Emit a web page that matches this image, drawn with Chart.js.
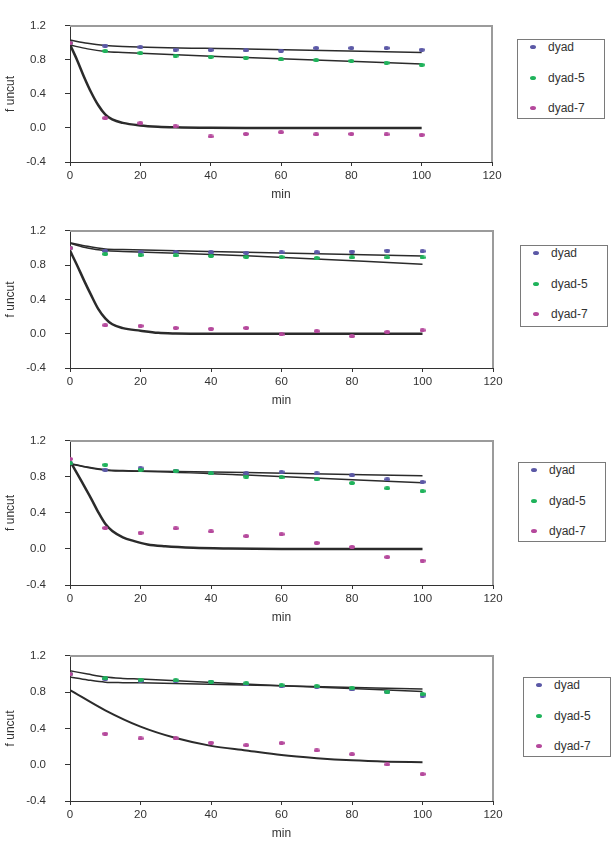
<!DOCTYPE html>
<html>
<head>
<meta charset="utf-8">
<script src="https://cdn.jsdelivr.net/npm/chart.js@4.4.0/dist/chart.umd.min.js"></script>
<style>
  body { margin: 0; background: #fff; width: 611px; height: 843px; position: relative; overflow: hidden; font-family: "Liberation Sans", Arial, sans-serif; }
  canvas { position: absolute; left: 0; }
  .legend { position: absolute; border: 1px solid #7a7a7a; background: #fff; box-sizing: border-box; width: 88px; height: 80px; }
  .legend div { height: 16px; line-height: 16px; margin-bottom: 14.7px; font-size: 12px; color: #333; position: relative; padding-left: 30px; }
  .legend div:first-child { margin-top: -1px; }
  .legend span { position: absolute; left: 12px; top: 6px; width: 6px; height: 4px; border-radius: 50%; }
</style>
</head>
<body>
<script>
const minutes = [0, 10, 20, 30, 40, 50, 60, 70, 80, 90, 100];
const xTicks = [0, 20, 40, 60, 80, 100, 120];
const yTicks = [-0.4, 0, 0.4, 0.8, 1.2];
const seriesNames = ['dyad', 'dyad-5', 'dyad-7'];
const seriesColors = ['#5b58a6', '#1fb35b', '#b5489c'];

// panel 1
const p1Dyad  = [1.0, 0.968, 0.95, 0.92, 0.916, 0.912, 0.909, 0.94, 0.94, 0.94, 0.92];
const p1Dyad5 = [1.0, 0.905, 0.88, 0.85, 0.836, 0.826, 0.805, 0.798, 0.788, 0.767, 0.743];
const p1Dyad7 = [1.0, 0.116, 0.057, 0.02, -0.10, -0.07, -0.05, -0.075, -0.07, -0.075, -0.08];
const p1FitDyad  = [[0, 1.034], [5, 0.995], [10, 0.97], [15, 0.958], [50, 0.929], [100, 0.888]];
const p1FitDyad5 = [[0, 0.975], [5, 0.93], [10, 0.9], [15, 0.888], [50, 0.828], [100, 0.753]];
const p1FitDyad7 = [[0, 0.98], [2, 0.8], [4, 0.6], [6, 0.42], [8, 0.27], [10, 0.16], [12, 0.1], [15, 0.06], [20, 0.03], [25, 0.015], [30, 0.008], [40, 0.002], [50, 0], [100, 0]];

// panel 2
const p2Dyad  = [1.0, 0.966, 0.952, 0.952, 0.949, 0.945, 0.949, 0.952, 0.959, 0.97, 0.963];
const p2Dyad5 = [1.0, 0.93, 0.918, 0.914, 0.908, 0.897, 0.894, 0.884, 0.89, 0.89, 0.89];
const p2Dyad7 = [1.0, 0.099, 0.092, 0.068, 0.058, 0.068, -0.008, 0.03, -0.03, 0.02, 0.04];
const p2FitDyad  = [[0, 1.062], [5, 1.02], [10, 0.99], [15, 0.982], [50, 0.95], [100, 0.907]];
const p2FitDyad5 = [[0, 1.055], [5, 1.0], [10, 0.97], [15, 0.96], [50, 0.91], [100, 0.81]];
const p2FitDyad7 = [[0, 0.97], [2, 0.8], [4, 0.62], [6, 0.45], [8, 0.29], [10, 0.18], [12, 0.11], [15, 0.065], [20, 0.035], [25, 0.01], [30, 0.003], [40, 0], [100, 0]];

// panel 3
const p3Dyad  = [0.95, 0.88, 0.897, 0.87, 0.846, 0.839, 0.853, 0.839, 0.818, 0.773, 0.745];
const p3Dyad5 = [0.95, 0.935, 0.88, 0.866, 0.84, 0.804, 0.794, 0.773, 0.732, 0.674, 0.643];
const p3Dyad7 = [1.0, 0.233, 0.18, 0.229, 0.195, 0.143, 0.164, 0.068, 0.023, -0.09, -0.13];
const p3FitDyad  = [[0, 0.95], [5, 0.91], [10, 0.88], [15, 0.87], [20, 0.866], [50, 0.85], [100, 0.812]];
const p3FitDyad5 = [[0, 0.945], [5, 0.905], [10, 0.875], [15, 0.865], [20, 0.862], [50, 0.82], [100, 0.735]];
const p3FitDyad7 = [[0, 0.975], [2, 0.84], [4, 0.7], [6, 0.56], [8, 0.41], [10, 0.28], [12, 0.2], [15, 0.13], [18, 0.09], [22, 0.05], [27, 0.03], [35, 0.013], [45, 0.005], [60, 0], [100, 0]];

// panel 4
const p4Dyad  = [1.0, 0.944, 0.923, 0.925, 0.908, 0.893, 0.865, 0.858, 0.83, 0.803, 0.762];
const p4Dyad5 = [1.0, 0.954, 0.937, 0.93, 0.916, 0.896, 0.875, 0.865, 0.848, 0.807, 0.78];
const p4Dyad7 = [1.0, 0.342, 0.29, 0.29, 0.243, 0.215, 0.239, 0.157, 0.116, 0.003, -0.103];
const p4FitDyad  = [[0, 0.967], [5, 0.935], [10, 0.91], [15, 0.905], [20, 0.903], [60, 0.87], [100, 0.834]];
const p4FitDyad5 = [[0, 1.036], [5, 1.0], [10, 0.967], [15, 0.952], [20, 0.944], [60, 0.872], [100, 0.807]];
const p4FitDyad7 = [[0, 0.824], [10, 0.6], [20, 0.42], [30, 0.294], [40, 0.208], [50, 0.157], [60, 0.106], [70, 0.072], [80, 0.048], [90, 0.034], [100, 0.027]];

const panels = [
  { top: 0,   height: 205, pad: { top: 8,  bottom: 0, right: 119 }, legend: [517, 39, 80],  pts: [p1Dyad, p1Dyad5, p1Dyad7], fits: [p1FitDyad, p1FitDyad5, p1FitDyad7], fastWidth: 2.5 },
  { top: 205, height: 210, pad: { top: 8,  bottom: 4, right: 118 }, legend: [520, 245, 82], pts: [p2Dyad, p2Dyad5, p2Dyad7], fits: [p2FitDyad, p2FitDyad5, p2FitDyad7], fastWidth: 2.5 },
  { top: 415, height: 215, pad: { top: 15, bottom: 2, right: 118 }, legend: [518, 462, 80], pts: [p3Dyad, p3Dyad5, p3Dyad7], fits: [p3FitDyad, p3FitDyad5, p3FitDyad7], fastWidth: 2.5 },
  { top: 630, height: 214, pad: { top: 15, bottom: 0, right: 118 }, legend: [523, 677, 80], pts: [p4Dyad, p4Dyad5, p4Dyad7], fits: [p4FitDyad, p4FitDyad5, p4FitDyad7], fastWidth: 2 }
];

function dotImage(color, w, h) {
  const c = document.createElement('canvas');
  c.width = w; c.height = h;
  const g = c.getContext('2d');
  g.fillStyle = color;
  g.beginPath();
  g.ellipse(w / 2, h / 2, w / 2, h / 2, 0, 0, Math.PI * 2);
  g.fill();
  return c;
}
const dots = seriesColors.map(c => dotImage(c, 6, 4));

// grey top + right frame of the plot area
const framePlugin = {
  id: 'frame',
  beforeDatasetsDraw(chart) {
    const { ctx, chartArea: a } = chart;
    ctx.save();
    ctx.strokeStyle = '#9b9b9b';
    ctx.lineWidth = 2;
    ctx.beginPath();
    ctx.moveTo(a.left, a.top);
    ctx.lineTo(a.right, a.top);
    ctx.lineTo(a.right, a.bottom);
    ctx.stroke();
    ctx.restore();
  }
};

const tickFont = { family: '"Liberation Sans", Arial, sans-serif', size: 11.5 };
const titleFont = { family: '"Liberation Sans", Arial, sans-serif', size: 12 };

panels.forEach(p => {
  const canvas = document.createElement('canvas');
  canvas.width = 611;
  canvas.height = p.height;
  canvas.style.top = p.top + 'px';
  document.body.appendChild(canvas);

  const datasets = [];
  p.pts.forEach((vals, i) => {
    datasets.push({
      label: seriesNames[i],
      data: minutes.map((m, j) => ({ x: m, y: vals[j] })),
      pointStyle: dots[i],
      pointRadius: 3,
      backgroundColor: seriesColors[i],
      borderColor: seriesColors[i],
      order: 3 - i
    });
  });
  p.fits.forEach((pairs, i) => {
    datasets.push({
      label: seriesNames[i] + ' fit',
      data: pairs.map(([x, y]) => ({ x, y })),
      showLine: true,
      pointRadius: 0,
      borderColor: '#2b2b2b',
      borderWidth: i === 2 ? p.fastWidth : 1.5,
      cubicInterpolationMode: 'monotone',
      order: 10 + i
    });
  });

  new Chart(canvas.getContext('2d'), {
    type: 'scatter',
    data: { datasets },
    options: {
      responsive: false,
      animation: false,
      events: [],
      layout: { padding: { left: 0, top: p.pad.top, bottom: p.pad.bottom, right: p.pad.right } },
      plugins: { legend: { display: false }, tooltip: { enabled: false } },
      scales: {
        x: {
          type: 'linear',
          min: xTicks[0],
          max: xTicks[xTicks.length - 1],
          afterBuildTicks: s => { s.ticks = xTicks.map(v => ({ value: v })); },
          afterFit: s => { s.height = 43; },
          grid: { drawOnChartArea: false, tickLength: 4, color: '#333' },
          border: { color: '#333', width: 1 },
          ticks: { color: '#333', font: tickFont, padding: 3, maxRotation: 0 },
          title: { display: true, text: 'min', color: '#333', font: titleFont, padding: { top: 0, bottom: 3 } }
        },
        y: {
          type: 'linear',
          min: yTicks[0],
          max: yTicks[yTicks.length - 1],
          afterBuildTicks: s => { s.ticks = yTicks.map(v => ({ value: v })); },
          afterFit: s => { s.width = 70; },
          grid: { drawOnChartArea: false, tickLength: 5, color: '#333' },
          border: { color: '#333', width: 1 },
          ticks: { color: '#333', font: tickFont, padding: 19, callback: v => v.toFixed(1) },
          title: { display: true, text: 'f uncut', color: '#333', font: titleFont, padding: { top: 3, bottom: 0 } }
        }
      }
    },
    plugins: [framePlugin]
  });

  const lg = document.createElement('div');
  lg.className = 'legend';
  lg.style.left = p.legend[0] + 'px';
  lg.style.top = p.legend[1] + 'px';
  lg.style.height = p.legend[2] + 'px';
  seriesNames.forEach((name, i) => {
    const row = document.createElement('div');
    const mark = document.createElement('span');
    mark.style.background = seriesColors[i];
    row.appendChild(mark);
    row.appendChild(document.createTextNode(name));
    lg.appendChild(row);
  });
  document.body.appendChild(lg);
});
</script>
</body>
</html>
